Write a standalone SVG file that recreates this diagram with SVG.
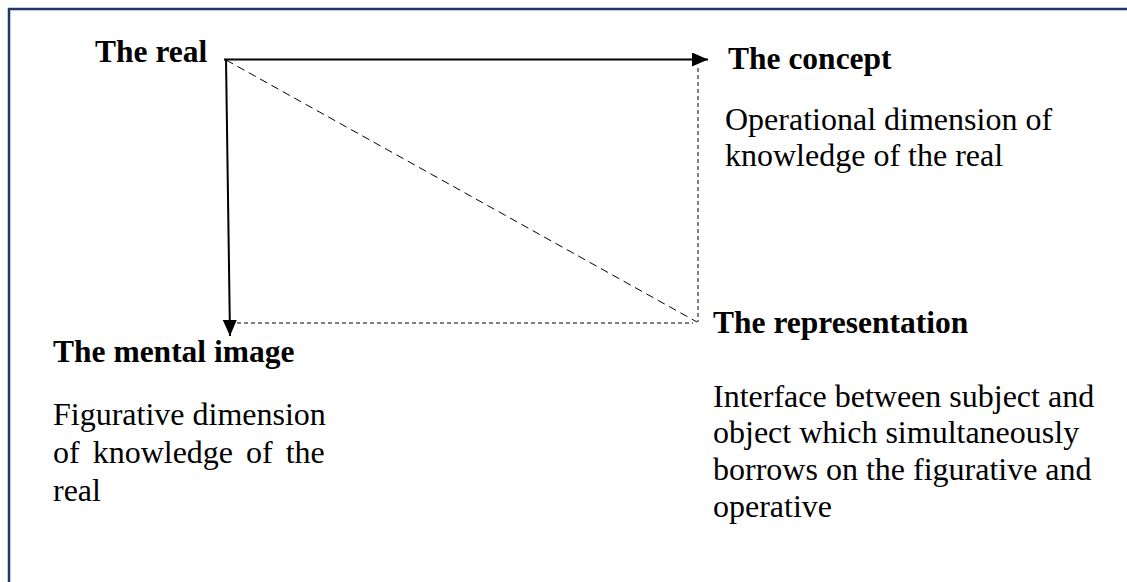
<svg xmlns="http://www.w3.org/2000/svg" width="1127" height="582" viewBox="0 0 1127 582">
  <style>
    .title { font-family: "Liberation Serif", "Times New Roman", serif; font-weight: bold; font-size: 31.5px; fill: #000; }
    .desc { font-family: "Liberation Serif", "Times New Roman", serif; font-size: 32px; fill: #000; }
    .solid { stroke: #000; stroke-width: 2; fill: none; }
    .dash-long { stroke: #000; stroke-width: 1; fill: none; stroke-dasharray: 8 5; }
    .dash-short { stroke: #000; stroke-width: 1; fill: none; stroke-dasharray: 4 3; }
  </style>
  <defs>
    <marker id="arrow" viewBox="0 0 16 14" refX="16" refY="7" markerWidth="16" markerHeight="14" markerUnits="userSpaceOnUse" orient="auto">
      <path d="M0,0 L16,7 L0,14 Z" fill="#000"/>
    </marker>
  </defs>

  <rect width="1127" height="582" fill="#fff"/>
  <!-- frame -->
  <rect x="9" y="9" width="1140" height="600" fill="none" stroke="#1f3864" stroke-width="2.5"/>

  <g id="connectors">
    <line class="solid" x1="224" y1="59.5" x2="708" y2="59.5" marker-end="url(#arrow)"/>
    <line class="solid" x1="226" y1="59" x2="230" y2="336" marker-end="url(#arrow)"/>
    <line class="dash-long" x1="226" y1="60" x2="697" y2="322"/>
    <line class="dash-short" x1="698" y1="68" x2="698" y2="322"/>
    <line class="dash-short" x1="237" y1="323" x2="693" y2="323"/>
  </g>

  <g id="node-real">
    <text class="title" x="95" y="62">The real</text>
  </g>

  <g id="node-concept">
    <text class="title" x="728" y="69">The concept</text>
    <text class="desc" x="725" y="130">Operational dimension of</text>
    <text class="desc" x="725" y="166">knowledge of the real</text>
  </g>

  <g id="node-mental-image">
    <text class="title" x="53" y="362">The mental image</text>
    <text class="desc" x="53" y="425">Figurative dimension</text>
    <text class="desc" x="53" y="463" word-spacing="5">of knowledge of the</text>
    <text class="desc" x="53" y="501">real</text>
  </g>

  <g id="node-representation">
    <text class="title" x="713" y="333">The representation</text>
    <text class="desc" x="713" y="407">Interface between subject and</text>
    <text class="desc" x="713" y="443">object which simultaneously</text>
    <text class="desc" x="713" y="480">borrows on the figurative and</text>
    <text class="desc" x="713" y="517">operative</text>
  </g>
</svg>
